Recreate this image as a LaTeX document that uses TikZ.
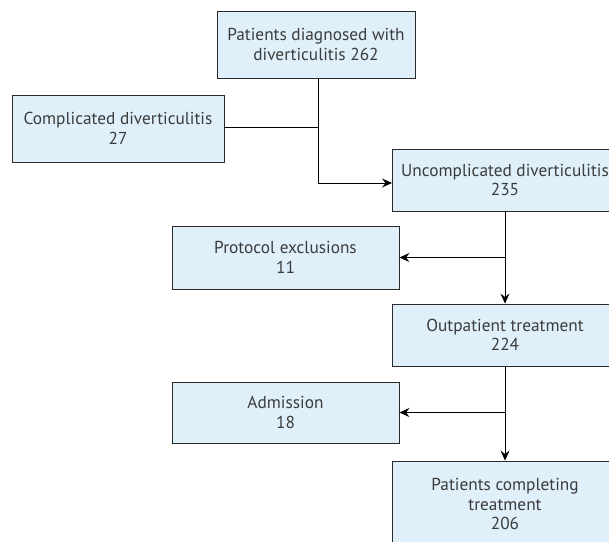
\documentclass[tikz,border=0pt]{standalone}
\usepackage{fontspec}
\setmainfont{PT Sans}
\usetikzlibrary{arrows.meta}
\definecolor{boxfill}{HTML}{DFF0FA}
\definecolor{boxtext}{HTML}{3C3C3C}
\definecolor{boxline}{HTML}{2A2A2A}
\begin{document}
\begin{tikzpicture}[x=1pt,y=-1pt,
  flowbox/.style={draw=boxline,line width=0.9pt,fill=boxfill,text=boxtext,align=center,
    inner sep=0pt,font=\fontsize{17.3}{19.5}\selectfont},
  conn/.style={draw=black,line width=0.8pt},
  arr/.style={conn,-{Stealth[length=10pt,width=9pt,inset=3.5pt]}}]
\useasboundingbox (0,0) rectangle (609,541);
\node[flowbox,minimum width=198pt,minimum height=67pt] (A) at (316,44.5) {Patients diagnosed with\\diverticulitis 262};
\node[flowbox,minimum width=212pt,minimum height=67pt] (B) at (118,128.5) {Complicated diverticulitis\\27};
\node[flowbox,minimum width=226pt,minimum height=62pt] (C) at (505,180) {Uncomplicated diverticulitis\\235};
\node[flowbox,minimum width=227pt,minimum height=63pt] (E) at (285.5,257.5) {Protocol exclusions\\11};
\node[flowbox,minimum width=226pt,minimum height=62pt] (D) at (505,335) {Outpatient treatment\\224};
\node[flowbox,minimum width=227pt,minimum height=61pt] (F) at (285.5,412.5) {Admission\\18};
\node[flowbox,minimum width=226pt,minimum height=86pt] (G) at (505,504) {Patients completing\\treatment\\206};
\coordinate (atop) at (318,78);
\coordinate (jB) at (318,127);
\coordinate (jC) at (318,183);
\coordinate (cc) at (392,183);
\draw[conn] (atop) -- (jC);
\draw[conn] (B.east |- jB) -- (jB);
\draw[arr] (jC) -- (cc);
\draw[arr] (C.south) -- (D.north);
\draw[arr] (C.south |- E.east) -- (E.east);
\draw[arr] (D.south) -- (G.north);
\draw[arr] (D.south |- F.east) -- (F.east);
\end{tikzpicture}
\end{document}
